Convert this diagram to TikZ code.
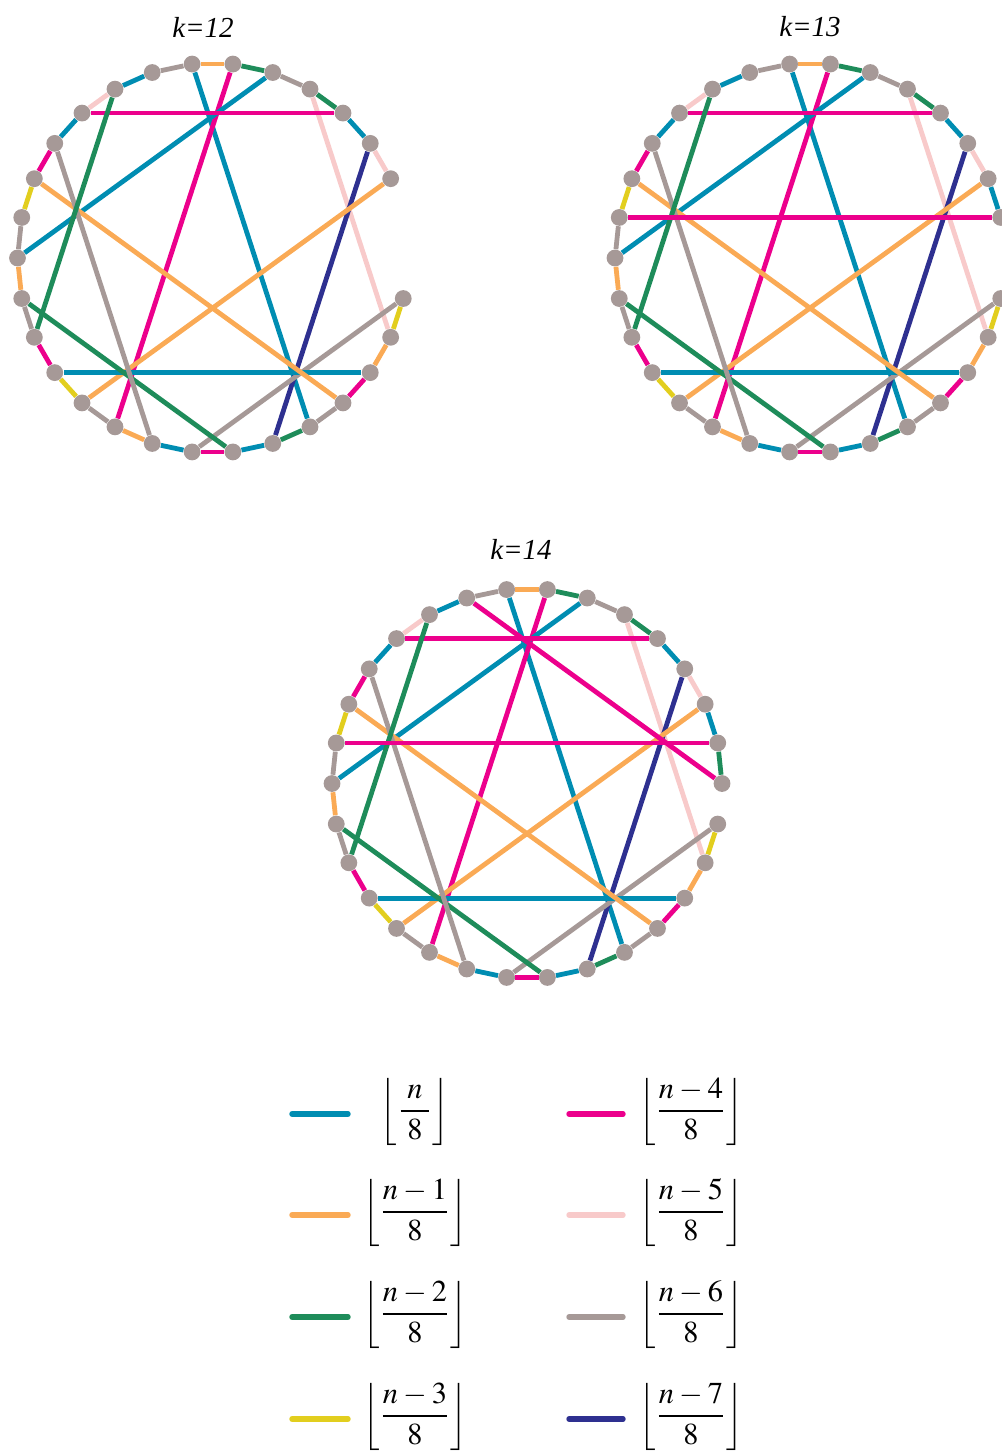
\documentclass[tikz,border=0pt]{standalone}
\usepackage{amsmath}
\usepackage{mathptmx}
\usepackage[no-math]{fontspec}
\setmainfont{Liberation Serif}
\usepackage{xcolor}
\usepackage{tikz}
\usetikzlibrary{backgrounds}

\definecolor{cTeal}{RGB}{0,141,178}
\definecolor{cOrange}{RGB}{250,170,85}
\definecolor{cGreen}{RGB}{30,140,90}
\definecolor{cYellow}{RGB}{226,206,30}
\definecolor{cMagenta}{RGB}{236,0,140}
\definecolor{cPink}{RGB}{248,202,202}
\definecolor{cGrey}{RGB}{166,153,151}
\definecolor{cNavy}{RGB}{46,48,144}

% edges shared by all three rings (slot/slot/colour)
\newcommand{\ringedges}{0/1/cOrange, 1/2/cGreen, 2/3/cGrey, 3/4/cGreen, 4/5/cTeal,
  5/6/cPink, 9/10/cYellow, 10/11/cOrange, 11/12/cMagenta, 12/13/cGrey,
  13/14/cGreen, 14/15/cTeal, 15/16/cMagenta, 16/17/cTeal, 17/18/cOrange,
  18/19/cGrey, 19/20/cYellow, 20/21/cMagenta, 21/22/cGrey, 22/23/cOrange,
  23/24/cGrey, 24/25/cYellow, 25/26/cMagenta, 26/27/cTeal, 27/28/cPink,
  28/29/cTeal, 29/0/cGrey,
  0/13/cTeal, 1/18/cMagenta, 2/23/cTeal, 3/10/cPink, 4/27/cMagenta,
  5/14/cNavy, 6/19/cOrange, 9/16/cGrey, 11/20/cTeal, 12/25/cOrange,
  15/22/cGreen, 17/26/cGrey, 21/28/cGreen}
\newcommand{\floorfrac}[1]{$\left\lfloor\rule[-12pt]{0pt}{32pt}\hspace{0.5pt}%
  \text{\fontsize{15.2}{18}\selectfont\medmuskip=3mu$\dfrac{#1}{8}$}%
  \hspace{0.5pt}\right\rfloor$}

\begin{document}
\begin{tikzpicture}[x=0.5pt, y=-0.5pt,
  dot/.style={circle, fill=cGrey, inner sep=0pt, minimum size=8.4pt},
  edge/.style={line width=2.4pt},
  swatch/.style={line width=2.7pt, line cap=round},
  title/.style={font=\fontsize{14.5}{17}\selectfont\itshape},
  formula/.style={font=\fontsize{14}{17}\selectfont, anchor=mid}
]
\useasboundingbox (0,0) rectangle (1001,1454);

% slots are 12 degrees apart
\begin{scope}[shift={(212.5,258)}]
  \foreach \s in {0,1,2,3,4,5,6,9,10,11,12,13,14,15,16,17,18,19,20,21,22,23,24,25,26,27,28,29}
    \node[dot] (a\s) at ({12*\s-96}:195) {};
\end{scope}
\begin{scope}[shift={(810,258)}]
  \foreach \s in {0,1,2,3,4,5,6,7,9,10,11,12,13,14,15,16,17,18,19,20,21,22,23,24,25,26,27,28,29}
    \node[dot] (b\s) at ({12*\s-96}:195) {};
\end{scope}
\begin{scope}[shift={(527,783.5)}]
  \foreach \s in {0,...,29}
    \node[dot] (c\s) at ({12*\s-96}:195) {};
\end{scope}

\begin{scope}[on background layer]
  \foreach \p in {a,b,c}{
    \foreach \u/\v/\col in \ringedges
      \draw[edge, draw=\col] (\p\u) -- (\p\v);
  }
  \draw[edge, cTeal] (b6) -- (b7);
  \draw[edge, cMagenta] (b7) -- (b24);
  \draw[edge, cTeal] (c6) -- (c7);
  \draw[edge, cGreen] (c7) -- (c8);
  \draw[edge, cMagenta] (c7) -- (c24);
  \draw[edge, cMagenta] (c8) -- (c29);
\end{scope}

\node[title] (t12) at (203,27) {k=12};
\node[title] (t13) at (810,27) {k=13};
\node[title] (t14) at (521,549) {k=14};

% legend
\foreach \i/\col/\x/\y/\num in {0/cTeal/292/1114/\;n\;, 1/cOrange/292/1215/n-1,
    2/cGreen/292/1317/n-2, 3/cYellow/292/1419/n-3}{
  \coordinate (s\i) at (\x,\y);
  \draw[swatch, \col] (s\i) -- ++(56,0);
  \node[formula] (f\i) at (415,\y) {\floorfrac{\num}};
}
\foreach \i/\col/\x/\y/\num in {4/cMagenta/569/1114/n-4, 5/cPink/569/1215/n-5,
    6/cGrey/569/1317/n-6, 7/cNavy/569/1419/n-7}{
  \coordinate (s\i) at (\x,\y);
  \draw[swatch, \col] (s\i) -- ++(54,0);
  \node[formula] (f\i) at (691,\y) {\floorfrac{\num}};
}
\end{tikzpicture}
\end{document}
